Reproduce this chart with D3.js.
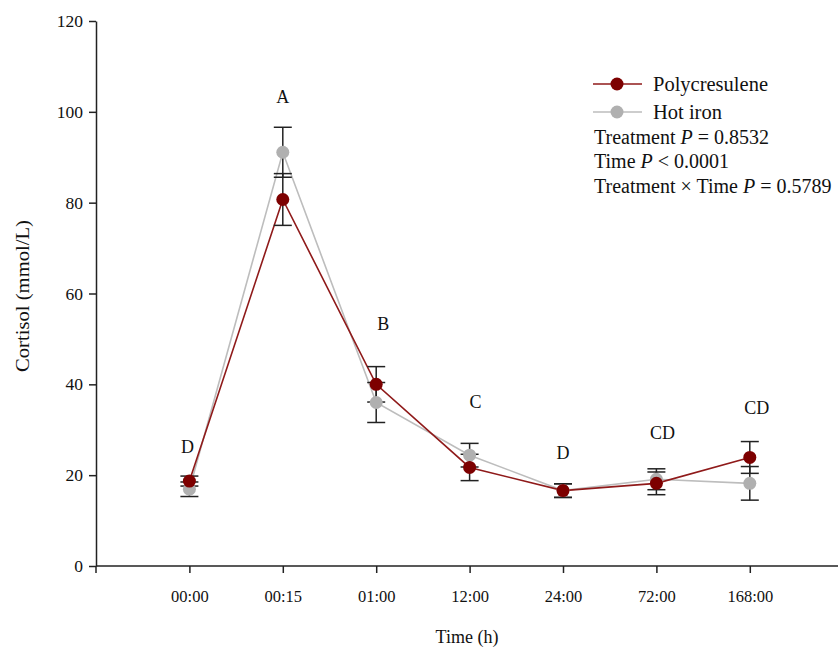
<!DOCTYPE html>
<html>
<head>
<meta charset="utf-8">
<script src="https://cdn.jsdelivr.net/npm/d3@7"></script>
<style>
  html, body { margin: 0; padding: 0; background: #fff; }
  svg text { font-family: "Liberation Serif", "Times New Roman", serif; fill: #111; }
</style>
</head>
<body>
<svg id="chart" width="838" height="655"></svg>
<script>
// Sampling times (h)
const times = ["00:00", "00:15", "01:00", "12:00", "24:00", "72:00", "168:00"];

// Cortisol means and standard errors per treatment
const polyMean = [18.7, 80.7, 40.0, 21.7, 16.6, 18.2, 23.9];
const polySE   = [1.1, 5.7, 3.9, 2.9, 1.5, 2.5, 3.5];
const hotMean  = [16.9, 91.1, 36.0, 24.4, 16.6, 19.1, 18.2];
const hotSE    = [1.6, 5.5, 4.4, 2.6, 1.5, 2.3, 3.7];

// Significance letters and the cortisol level they sit at
const letters   = ["D", "A", "B", "C", "D", "CD", "CD"];
const letterY   = [26.4, 103.3, 53.5, 36.3, 25.1, 29.5, 34.8];
const letterDx  = [-2, 0, 7, 6, 0, 6, 7];

const yTicks = [0, 20, 40, 60, 80, 100, 120];

const statLines = [
  [["Treatment ", false], ["P", true], [" = 0.8532", false]],
  [["Time ", false], ["P", true], [" < 0.0001", false]],
  [["Treatment × Time ", false], ["P", true], [" = 0.5789", false]]
];

const series = [
  { name: "Polycresulene", mean: polyMean, se: polySE, line: "#8f1a1a", fill: "#7d0000" },
  { name: "Hot iron", mean: hotMean, se: hotSE, line: "#bdbdbd", fill: "#b0b0b0" }
];

const svg = d3.select("#chart");
const x0 = 96, x1 = 838, yTop = 21, yBottom = 566;

const x = d3.scalePoint().domain(times).range([x0, x0 + 93.4 * 8]).padding(1);
const y = d3.scaleLinear().domain([0, 120]).range([yBottom, yTop]);

// Axes
const axisColor = "#222";
const gx = svg.append("g").attr("transform", `translate(0,${yBottom})`)
  .call(d3.axisBottom(x).tickSize(7).tickSizeOuter(0).tickPadding(17));
gx.select(".domain").remove();
gx.append("line").attr("x1", x0).attr("x2", x1).attr("y1", 0).attr("y2", 0)
  .attr("stroke", axisColor).attr("stroke-width", 1.5);
gx.append("line").attr("x1", x0).attr("x2", x0).attr("y1", 0).attr("y2", 7)
  .attr("stroke", axisColor).attr("stroke-width", 1.5);
gx.selectAll(".tick line").attr("stroke", axisColor).attr("stroke-width", 1.5);
gx.selectAll(".tick text").attr("font-size", 16.5).attr("fill", "#111");

const gy = svg.append("g").attr("transform", `translate(${x0},0)`)
  .call(d3.axisLeft(y).tickValues(yTicks).tickSize(7).tickSizeOuter(0).tickPadding(6));
gy.select(".domain").attr("stroke", axisColor).attr("stroke-width", 1.5);
gy.selectAll(".tick line").attr("stroke", axisColor).attr("stroke-width", 1.5);
gy.selectAll(".tick text").attr("font-size", 17.5).attr("fill", "#111");

// Axis titles
svg.append("text").attr("x", 467).attr("y", 643).attr("text-anchor", "middle")
  .attr("font-size", 18).text("Time (h)");
svg.append("text").attr("transform", `translate(29,296) rotate(-90)`)
  .attr("text-anchor", "middle").attr("font-size", 19.5).attr("textLength", 152)
  .attr("lengthAdjust", "spacingAndGlyphs").text("Cortisol (mmol/L)");

// Lines
const line = d3.line().x((d, i) => x(times[i])).y(d => y(d));
series.slice().reverse().forEach(s => {
  svg.append("path").datum(s.mean).attr("d", line)
    .attr("fill", "none").attr("stroke", s.line).attr("stroke-width", 1.6);
});

// Error bars
const capW = 9;
series.forEach(s => {
  const g = svg.append("g").attr("stroke", "#222").attr("stroke-width", 1.5);
  s.mean.forEach((m, i) => {
    const cx = x(times[i]);
    g.append("line").attr("x1", cx).attr("x2", cx)
      .attr("y1", y(m - s.se[i])).attr("y2", y(m + s.se[i]));
    [m - s.se[i], m + s.se[i]].forEach(v => {
      g.append("line").attr("x1", cx - capW).attr("x2", cx + capW)
        .attr("y1", y(v)).attr("y2", y(v));
    });
  });
});

// Markers
series.slice().reverse().forEach(s => {
  svg.append("g").selectAll("circle").data(s.mean).join("circle")
    .attr("cx", (d, i) => x(times[i])).attr("cy", d => y(d)).attr("r", 6.5)
    .attr("fill", s.fill);
});

// Significance letters
svg.append("g").selectAll("text").data(letters).join("text")
  .attr("x", (d, i) => x(times[i]) + letterDx[i])
  .attr("y", (d, i) => y(letterY[i]) + 6.5)
  .attr("text-anchor", "middle").attr("font-size", 18).text(d => d);

// Legend
const legX = 593, legY = 84, legStep = 28;
series.forEach((s, i) => {
  const ly = legY + i * legStep;
  svg.append("line").attr("x1", legX).attr("x2", legX + 49).attr("y1", ly).attr("y2", ly)
    .attr("stroke", s.line).attr("stroke-width", 1.6);
  svg.append("circle").attr("cx", legX + 24).attr("cy", ly).attr("r", 6.5).attr("fill", s.fill);
  svg.append("text").attr("x", 653).attr("y", ly + 7).attr("font-size", 20.5).text(s.name);
});

statLines.forEach((parts, i) => {
  const t = svg.append("text").attr("x", 594).attr("y", 143.5 + i * 24.5).attr("font-size", 20);
  parts.forEach(([txt, it]) => {
    t.append("tspan").attr("font-style", it ? "italic" : "normal")
      .attr("xml:space", "preserve").text(txt);
  });
});
</script>
</body>
</html>
